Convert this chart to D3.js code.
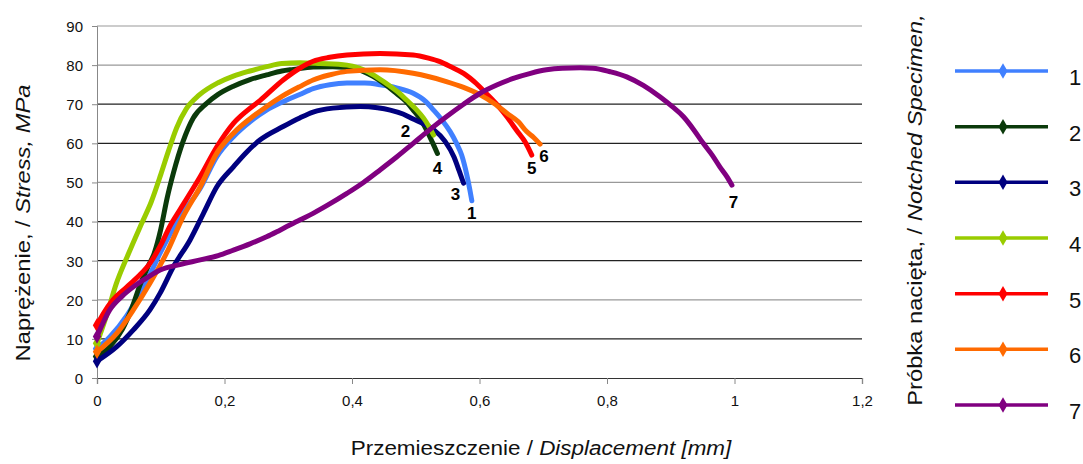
<!DOCTYPE html>
<html>
<head>
<meta charset="utf-8">
<script src="https://d3js.org/d3.v7.min.js"></script>
<style>
  body { margin: 0; background: #fff; }
  text { font-family: "Liberation Sans", Arial, sans-serif; }
</style>
</head>
<body>
<div id="graph"></div>
<script>

// series names
var seriesNames = ["1", "2", "3", "4", "5", "6", "7"];

// [displacement mm, stress MPa]
var spec1 = [[0,7.5],[0.02,10.5],[0.047,16],[0.067,21.6],[0.083,26.5],[0.099,31.9],[0.13,41.2],[0.162,48.5],[0.188,56.6],[0.214,61.7],[0.24,65.5],[0.266,68.5],[0.29,70.5],[0.318,72.5],[0.339,74],[0.365,75],[0.392,75.4],[0.42,75.4],[0.444,75],[0.47,74.2],[0.496,72.8],[0.515,70.8],[0.528,68.5],[0.542,65.8],[0.554,63],[0.564,60],[0.572,57],[0.58,52],[0.585,48],[0.588,45.3]];
var spec2 = [[0,5.5],[0.02,8],[0.04,12.5],[0.055,18],[0.068,24],[0.08,28.5],[0.09,32],[0.1,38],[0.11,46],[0.12,52.5],[0.135,60.5],[0.151,66.5],[0.172,70.2],[0.19,72.5],[0.214,74.6],[0.24,76.3],[0.266,77.5],[0.29,78.5],[0.308,78.9],[0.339,79.5],[0.37,79.6],[0.402,79.2],[0.42,78.2],[0.433,77.1],[0.45,75.3],[0.47,72.7],[0.484,70.8],[0.496,68.5],[0.508,66],[0.517,63.4],[0.526,60.3],[0.534,57.4]];
var spec3 = [[0,4.3],[0.031,8],[0.057,12.3],[0.083,17.4],[0.099,21.7],[0.12,28.5],[0.146,35.3],[0.167,42.1],[0.188,48.9],[0.214,54],[0.235,57.8],[0.256,60.9],[0.292,64.3],[0.318,66.5],[0.339,68],[0.37,69],[0.413,69.4],[0.44,69.1],[0.46,68.5],[0.48,67.5],[0.496,66.2],[0.512,65],[0.528,63.5],[0.546,60.5],[0.56,56.5],[0.568,53],[0.575,49.8]];
var spec4 = [[0,8.9],[0.015,16],[0.03,24],[0.05,32],[0.07,39.5],[0.085,45],[0.1,52],[0.112,58],[0.125,64],[0.14,68.8],[0.16,72.3],[0.19,75.5],[0.214,77.2],[0.24,78.5],[0.266,79.6],[0.29,80.4],[0.318,80.6],[0.35,80.4],[0.392,80],[0.41,79.3],[0.423,78.4],[0.44,76.8],[0.46,74.6],[0.473,73],[0.486,71],[0.5,68.8],[0.512,66.5],[0.52,64.5],[0.528,62.1]];
var spec5 = [[0,13.5],[0.01,16.5],[0.025,20],[0.045,23],[0.065,26],[0.083,29.3],[0.1,34],[0.115,39],[0.13,43],[0.162,51.5],[0.188,59.1],[0.214,65.1],[0.235,68.3],[0.256,71],[0.292,76.2],[0.318,79.2],[0.339,81],[0.365,82],[0.392,82.6],[0.444,83],[0.496,82.6],[0.52,81.8],[0.538,80.9],[0.556,79.5],[0.575,77.9],[0.595,75.3],[0.611,72.7],[0.628,69.8],[0.643,66.8],[0.653,64.5],[0.662,62.5],[0.671,60.5],[0.682,57]];
var spec6 = [[0,6.7],[0.031,11.4],[0.057,17.4],[0.083,24.2],[0.109,31.9],[0.135,41.2],[0.162,48.9],[0.188,57.5],[0.214,62.6],[0.24,66.3],[0.266,69.4],[0.29,72],[0.318,74.5],[0.339,76.2],[0.365,77.5],[0.392,78.4],[0.444,78.8],[0.496,77.9],[0.548,75.8],[0.575,74.3],[0.601,72.4],[0.623,70.2],[0.643,67.7],[0.661,65.5],[0.674,63],[0.685,61.5],[0.695,59.8]];
var spec7 = [[0,10.6],[0.02,17.4],[0.04,21],[0.057,23.3],[0.08,25.8],[0.099,27.6],[0.13,29],[0.162,30.2],[0.19,31.3],[0.214,32.7],[0.24,34.3],[0.266,36.1],[0.287,37.8],[0.318,40.4],[0.339,42.1],[0.365,44.5],[0.392,47.2],[0.418,50],[0.444,53.2],[0.47,56.5],[0.496,60],[0.522,63.5],[0.548,66.8],[0.575,70],[0.601,72.8],[0.627,74.9],[0.653,76.6],[0.68,77.9],[0.705,78.8],[0.73,79.2],[0.758,79.3],[0.778,79.2],[0.805,78.3],[0.831,77],[0.857,74.8],[0.883,71.9],[0.903,69.3],[0.92,66.8],[0.936,63.5],[0.951,60],[0.965,57],[0.977,54],[0.988,51.5],[0.996,49.3]];

// axis ticks
var xTicks = [0, 0.2, 0.4, 0.6, 0.8, 1, 1.2];
var yTicks = [0, 10, 20, 30, 40, 50, 60, 70, 80, 90];

var allSeries = [spec1, spec2, spec3, spec4, spec5, spec6, spec7];
var colors = ["#4080ff", "#0b3a0b", "#00007f", "#99cc00", "#ff0000", "#ff6a00", "#800080"];
// where the end label sits, relative to the last point (px)
var labelShift = [[0,18.5],[-32,-16.5],[-8,17],[4,39],[0,19],[4,18],[1.5,23]];

var W = 1083, H = 464;
var margin = {top: 26, right: 221, bottom: 86, left: 97},
    width = W - margin.left - margin.right,
    height = H - margin.top - margin.bottom;

var svg = d3.select("#graph")
  .append("svg")
    .attr("width", W)
    .attr("height", H);

var g = svg.append("g")
    .attr("transform", "translate(" + margin.left + "," + margin.top + ")");

var x = d3.scaleLinear().domain([0, 1.2]).range([0, width]);
var y = d3.scaleLinear().domain([0, 90]).range([height, 0]);

// horizontal grid (rendered lines look alternately light / dark)
var darkGrid = [10, 30, 40, 60, 70];
g.selectAll(".grid")
  .data(yTicks.filter(function(d){ return d > 0; }))
  .enter().append("line")
    .attr("x1", 0).attr("x2", width)
    .attr("y1", function(d){ return y(d); })
    .attr("y2", function(d){ return y(d); })
    .attr("stroke", function(d){ return darkGrid.indexOf(d) >= 0 ? "#222" : "#999"; })
    .attr("stroke-width", 1.2);

// Y axis
var yAxis = g.append("g")
  .call(d3.axisLeft(y).tickValues(yTicks).tickSize(5).tickPadding(9));
yAxis.select(".domain").attr("stroke", "#888");
yAxis.selectAll(".tick line").attr("stroke", "#888");
yAxis.selectAll("text")
  .style("font-size", "15px").attr("fill", "#111").attr("dy", "0.36em");

// X axis
var xAxis = g.append("g")
  .attr("transform", "translate(0," + height + ")")
  .call(d3.axisBottom(x).tickValues(xTicks).tickSize(6).tickPadding(11)
    .tickFormat(function(d){ return String(d).replace(".", ","); }));
xAxis.select(".domain").attr("stroke", "#333").attr("stroke-width", 1.2);
xAxis.selectAll(".tick line").attr("stroke", "#888");
xAxis.selectAll("text")
  .style("font-size", "15px").attr("fill", "#111");

// the curves
var line = d3.line()
  .x(function(d){ return x(d[0]); })
  .y(function(d){ return y(d[1]); })
  .curve(d3.curveMonotoneX);

var diamond = d3.symbol().type(d3.symbolDiamond);

allSeries.forEach(function(s, i){
  g.append("path")
    .datum(s)
    .attr("fill", "none")
    .attr("stroke", colors[i])
    .attr("stroke-width", 5)
    .attr("stroke-linecap", "round")
    .attr("stroke-linejoin", "round")
    .attr("d", line);
  g.append("path")
    .attr("d", diamond.size(60)())
    .attr("transform", "translate(" + x(s[0][0]) + "," + y(s[0][1]) + ")")
    .attr("fill", colors[i]);
});

// end labels
allSeries.forEach(function(s, i){
  var last = s[s.length - 1];
  g.append("text")
    .attr("x", x(last[0]) + labelShift[i][0])
    .attr("y", y(last[1]) + labelShift[i][1])
    .attr("text-anchor", "middle")
    .style("font-size", "17px")
    .style("font-weight", "bold")
    .text(seriesNames[i]);
});

// Y axis label
var yl = svg.append("text")
  .attr("transform", "translate(30,223) rotate(-90) scale(1.13,1)")
  .attr("text-anchor", "middle")
  .style("font-size", "21px")
  .attr("fill", "#111");
yl.append("tspan").text("Naprężenie, / ");
yl.append("tspan").style("font-style", "italic").text("Stress, MPa");

// X axis label
var xl = svg.append("text")
  .attr("transform", "translate(541,455) scale(1.07,1)")
  .attr("text-anchor", "middle")
  .style("font-size", "21px")
  .attr("fill", "#111");
xl.append("tspan").text("Przemieszczenie / ");
xl.append("tspan").style("font-style", "italic").text("Displacement [mm]");

// legend title
var lt = svg.append("text")
  .attr("transform", "translate(922,210) rotate(-90) scale(1.13,1)")
  .attr("text-anchor", "middle")
  .style("font-size", "21px")
  .attr("fill", "#111");
lt.append("tspan").text("Próbka nacięta, / ");
lt.append("tspan").style("font-style", "italic").text("Notched Specimen,");

// legend entries
var legendY = d3.scaleLinear().domain([0, 6]).range([71, 405]);
var legend = svg.selectAll(".legend")
  .data(seriesNames)
  .enter().append("g")
    .attr("transform", function(d, i){ return "translate(0," + legendY(i) + ")"; });

legend.append("line")
  .attr("x1", 955).attr("x2", 1048)
  .attr("stroke", function(d, i){ return colors[i]; })
  .attr("stroke-width", 3.5);

legend.append("path")
  .attr("d", diamond.size(70)())
  .attr("transform", "translate(1003,0)")
  .attr("fill", function(d, i){ return colors[i]; });

legend.append("text")
  .attr("x", 1069)
  .attr("y", 14)
  .style("font-size", "22px")
  .attr("fill", "#111")
  .text(function(d){ return d; });

</script>
</body>
</html>
